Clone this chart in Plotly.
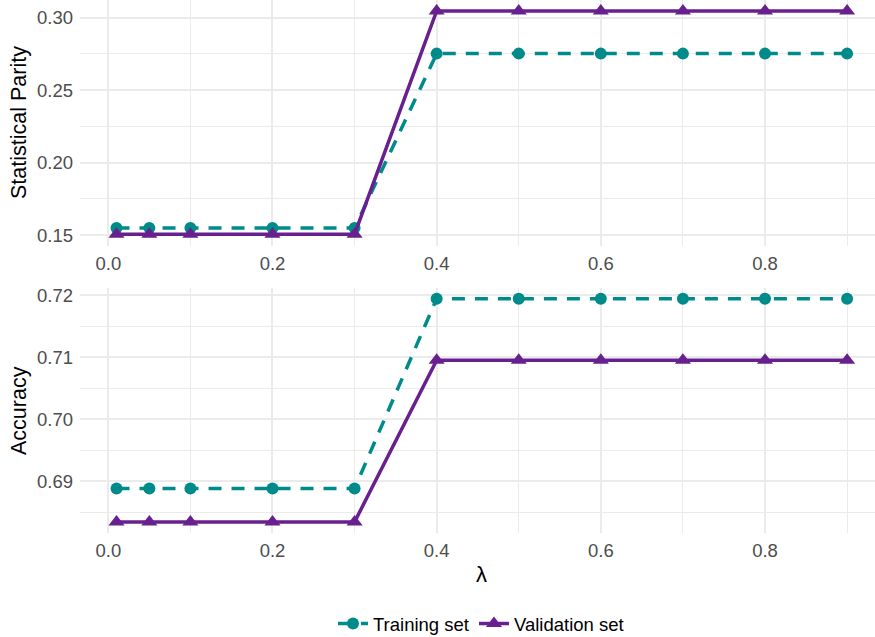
import plotly.graph_objects as go
from plotly.subplots import make_subplots

lam = [0.01, 0.05, 0.1, 0.2, 0.3, 0.4, 0.5, 0.6, 0.7, 0.8, 0.9]
sp_train = [0.1548, 0.1548, 0.1548, 0.1548, 0.1548, 0.2752, 0.2752, 0.2752, 0.2752, 0.2752, 0.2752]
sp_valid = [0.1506, 0.1506, 0.1506, 0.1506, 0.1506, 0.3046, 0.3046, 0.3046, 0.3046, 0.3046, 0.3046]
acc_train = [0.6888, 0.6888, 0.6888, 0.6888, 0.6888, 0.7194, 0.7194, 0.7194, 0.7194, 0.7194, 0.7194]
acc_valid = [0.6834, 0.6834, 0.6834, 0.6834, 0.6834, 0.7095, 0.7095, 0.7095, 0.7095, 0.7095, 0.7095]

TEAL = "#008B8B"
PURPLE = "#69208F"
FONT = "Liberation Sans"
GRID = "#ebebeb"

fig = make_subplots(rows=2, cols=1)

def add(y, row, name, color, dash, symbol, size, show):
    fig.add_trace(go.Scatter(
        x=lam, y=y, mode="lines+markers", name=name,
        line=dict(color=color, width=3.5, dash=dash),
        marker=dict(color=color, symbol=symbol, size=size),
        showlegend=show, legendgroup=name,
    ), row=row, col=1)

add(sp_train, 1, "Training set", TEAL, "13px,10px", "circle", 12, True)
add(sp_valid, 1, "Validation set", PURPLE, "solid", "triangle-up", 14, True)
add(acc_train, 2, "Training set", TEAL, "13px,10px", "circle", 12, False)
add(acc_valid, 2, "Validation set", PURPLE, "solid", "triangle-up", 14, False)

H = 637.0
W = 875.0
xcommon = dict(
    range=[-0.0345, 0.934], dtick=0.2, tick0=0, tickformat=".1f",
    showgrid=True, gridcolor=GRID, gridwidth=1.6,
    minor=dict(showgrid=True, dtick=0.1, tick0=0, gridcolor=GRID, gridwidth=1.1),
    zeroline=False, showline=False, ticks="", automargin=False,
    tickfont=dict(family=FONT, size=18.5, color="#4d4d4d"),
    ticklabelstandoff=5,
)
fig.update_xaxes(**xcommon)
fig.update_xaxes(domain=[80/W, 1.0], row=1, col=1)
fig.update_xaxes(domain=[80/W, 1.0], row=2, col=1)

ycommon = dict(
    showgrid=True, gridcolor=GRID, gridwidth=1.6,
    zeroline=False, showline=False, ticks="", automargin=False,
    tickfont=dict(family=FONT, size=18.5, color="#4d4d4d"),
    ticklabelstandoff=6,
)
fig.update_yaxes(**ycommon)
fig.update_yaxes(range=[0.1428, 0.3122], dtick=0.05, tick0=0, tickformat=".2f",
                 minor=dict(showgrid=True, dtick=0.025, tick0=0, gridcolor=GRID, gridwidth=1.1),
                 domain=[1 - 245.5/H, 1.0], row=1, col=1)
fig.update_yaxes(range=[0.6817, 0.7212], dtick=0.01, tick0=0, tickformat=".2f",
                 minor=dict(showgrid=True, dtick=0.005, tick0=0, gridcolor=GRID, gridwidth=1.1),
                 domain=[1 - 532.5/H, 1 - 287.6/H], row=2, col=1)

ann = dict(xref="paper", yref="paper", showarrow=False, xanchor="center", yanchor="middle")
fig.add_annotation(text="Statistical Parity", x=19/W, y=1 - 123/H, textangle=-90,
                   font=dict(family=FONT, size=21.5, color="black"), **ann)
fig.add_annotation(text="Accuracy", x=19/W, y=1 - 411/H, textangle=-90,
                   font=dict(family=FONT, size=21.5, color="black"), **ann)
fig.add_annotation(text="λ", x=481/W, y=1 - 574/H,
                   font=dict(family=FONT, size=22, color="black"), **ann)

fig.update_layout(
    width=875, height=637, autosize=False,
    margin=dict(l=0, r=0, t=0, b=0, autoexpand=False),
    paper_bgcolor="white", plot_bgcolor="white",
    font=dict(family=FONT, size=18.5, color="black"),
    legend=dict(orientation="h", x=481/W, xanchor="center", y=1 - 624/H, yanchor="middle",
                font=dict(family=FONT, size=18.5, color="black"), itemwidth=30,
                traceorder="normal", tracegroupgap=0, bgcolor="rgba(0,0,0,0)"),
)

fig.write_html("out.html", config={"displayModeBar": False},
               post_script="document.body.style.margin='0';document.body.style.overflow='hidden';")
